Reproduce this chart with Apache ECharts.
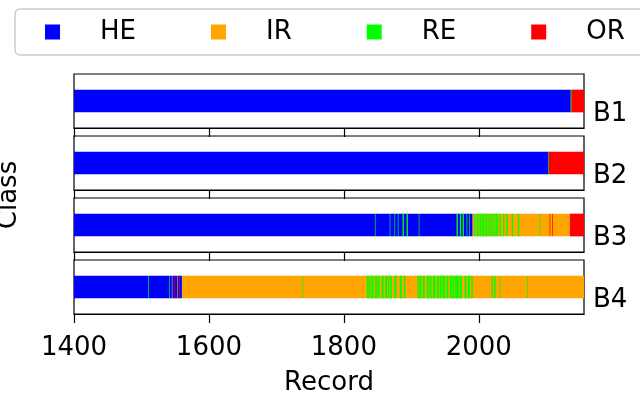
<!DOCTYPE html>
<html>
<head>
<meta charset="utf-8">
<script src="https://cdn.jsdelivr.net/npm/echarts@6/dist/echarts.min.js"></script>
<style>
  html, body { margin: 0; padding: 0; background: #fff; }
  #chart { width: 640px; height: 399px; }
</style>
</head>
<body>
<div id="chart"></div>
<script>
// classes and colours
const classNames = ['HE', 'IR', 'RE', 'OR'];
const classColors = ['#0000ff', '#ffa500', '#00ff00', '#ff0000'];
const panelNames = ['B1', 'B2', 'B3', 'B4'];
const xTicks = [1400, 1600, 1800, 2000];
const recordMin = 1400;
const recordMax = 2156;

// base runs [from, to, class]
const b1Base = [[1400, 2137, 'HE'], [2137, 2156, 'OR']];
const b2Base = [[1400, 2104, 'HE'], [2104, 2156, 'OR']];
const b3Base = [[1400, 1991, 'HE'], [1991, 2135, 'IR'], [2135, 2156, 'OR']];
const b4Base = [[1400, 1560, 'HE'], [1560, 2156, 'IR']];

// short runs drawn over the base [from, to, class]
const b1Stripes = [[2136, 2137, 'RE']];
const b2Stripes = [[2103, 2104, 'RE']];
const b3Stripes = [
  [1846, 1847, 'RE'], [1868, 1869, 'RE'], [1875, 1876, 'RE'], [1880, 1881, 'RE'],
  [1887, 1889, 'RE'], [1893, 1895, 'RE'], [1911, 1912, 'RE'], [1967, 1969, 'RE'],
  [1972, 1974, 'RE'], [1976, 1978, 'RE'], [1982, 1983, 'RE'], [1986, 1987, 'RE'],
  [1993, 1995, 'RE'], [1997, 2000, 'RE'], [2001, 2004, 'RE'], [2005, 2008, 'RE'],
  [2009, 2012, 'RE'], [2013, 2015, 'RE'], [2016, 2019, 'RE'], [2020, 2022, 'RE'],
  [2023, 2025, 'RE'], [2026, 2029, 'RE'], [2031, 2033, 'RE'], [2036, 2038, 'RE'],
  [2041, 2043, 'RE'], [2049, 2051, 'RE'], [2058, 2060, 'RE'], [2090, 2091, 'RE'],
  [2105, 2106, 'OR'], [2109, 2110, 'OR']
];
const b4Stripes = [
  [1510, 1511, 'RE'], [1541, 1542, 'RE'], [1545, 1546, 'IR'], [1549, 1550, 'OR'],
  [1553, 1554, 'IR'], [1556, 1557, 'OR'], [1739, 1740, 'RE'],
  [1834, 1837, 'RE'], [1838, 1840, 'RE'], [1841, 1844, 'RE'], [1846, 1849, 'RE'],
  [1850, 1853, 'RE'], [1856, 1859, 'RE'], [1861, 1864, 'RE'], [1865, 1867, 'RE'],
  [1868, 1871, 'RE'], [1875, 1878, 'RE'], [1883, 1886, 'RE'], [1889, 1891, 'RE'],
  [1909, 1911, 'RE'], [1912, 1915, 'RE'], [1917, 1920, 'RE'], [1923, 1926, 'RE'],
  [1927, 1930, 'RE'], [1932, 1936, 'RE'], [1938, 1941, 'RE'], [1942, 1945, 'RE'],
  [1946, 1950, 'RE'], [1952, 1955, 'RE'], [1957, 1960, 'RE'], [1961, 1964, 'RE'],
  [1965, 1971, 'RE'], [1972, 1975, 'RE'], [1979, 1982, 'RE'], [1984, 1987, 'RE'],
  [1989, 1991, 'RE'], [2019, 2021, 'RE'], [2023, 2025, 'RE'], [2031, 2032, 'RE'],
  [2072, 2073, 'RE']
];

const panelRuns = [
  b1Base.concat(b1Stripes),
  b2Base.concat(b2Stripes),
  b3Base.concat(b3Stripes),
  b4Base.concat(b4Stripes)
];

const font = 'DejaVu Sans';
const fontSize = 26;
const gridTops = [74, 136, 198, 260];
const panelHeight = 54;

function renderRun(params, api) {
  const p0 = api.coord([api.value(0), 0.71]);
  const p1 = api.coord([api.value(1), 0.29]);
  return {
    type: 'rect',
    shape: { x: p0[0], y: p0[1], width: p1[0] - p0[0], height: p1[1] - p0[1] },
    style: { fill: classColors[api.value(2)] }
  };
}

let grids = [], xAxes = [], yAxes = [], series = [];
panelRuns.forEach((runs, i) => {
  grids.push({
    left: 74, width: 510, top: gridTops[i], height: panelHeight,
    show: true, borderColor: '#000', borderWidth: 1.2, backgroundColor: '#fff'
  });
  xAxes.push({
    type: 'value', gridIndex: i, min: recordMin, max: recordMax, interval: 200,
    axisLine: { show: true, lineStyle: { color: '#000', width: 1.2 } },
    axisTick: { show: true, inside: false, length: 9, customValues: xTicks,
      lineStyle: { color: '#000', width: 1.2 } },
    axisLabel: { show: i === 3, customValues: xTicks, margin: 21,
      formatter: v => String(v),
      fontSize: fontSize, color: '#000', fontFamily: font },
    splitLine: { show: false },
    name: i === 3 ? 'Record' : '',
    nameLocation: 'middle', nameGap: 56,
    nameTextStyle: { fontSize: fontSize, color: '#000', fontFamily: font }
  });
  yAxes.push({
    type: 'value', gridIndex: i, min: 0, max: 1, position: 'right',
    axisLine: { show: false }, axisTick: { show: false },
    axisLabel: { show: false }, splitLine: { show: false },
    name: panelNames[i], nameLocation: 'middle', nameRotate: 0, nameGap: 9,
    nameTextStyle: { fontSize: fontSize, color: '#000', fontFamily: font,
      align: 'left', verticalAlign: 'top' }
  });
  series.push({
    type: 'custom', name: panelNames[i], xAxisIndex: i, yAxisIndex: i,
    renderItem: renderRun, clip: true, silent: true,
    encode: { x: [0, 1] },
    data: runs.map(r => [r[0], r[1], classNames.indexOf(r[2])])
  });
});

// empty series so the legend gets the class colours
classNames.forEach((c, k) => {
  series.push({ type: 'scatter', name: c, xAxisIndex: 0, yAxisIndex: 0,
    data: [], itemStyle: { color: classColors[k], opacity: 1 } });
});

const chart = echarts.init(document.getElementById('chart'));
chart.setOption({
  animation: false,
  legend: {
    data: classNames, left: 15, top: 9, width: 900,
    icon: 'rect', itemWidth: 15, itemHeight: 15, itemGap: 75,
    padding: [10, 40, 10, 30],
    backgroundColor: '#fff', borderColor: '#cccccc', borderWidth: 1.5, borderRadius: 5,
    itemStyle: { opacity: 1 },
    textStyle: { fontSize: fontSize, color: '#000', fontFamily: font, padding: [0, 0, 0, 35] }
  },
  grid: grids,
  xAxis: xAxes,
  yAxis: yAxes,
  series: series,
  graphic: [{
    type: 'text', x: 9, y: 195, rotation: Math.PI / 2,
    style: { text: 'Class', font: fontSize + 'px "DejaVu Sans"', fill: '#000',
      align: 'center', verticalAlign: 'middle' }
  }]
});
</script>
</body>
</html>
